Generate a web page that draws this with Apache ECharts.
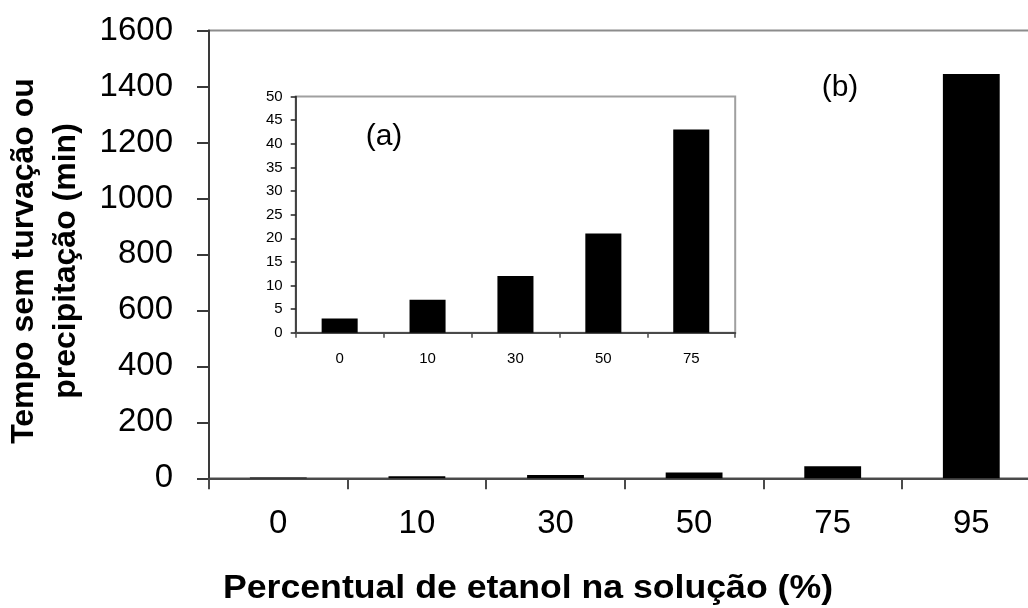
<!DOCTYPE html>
<html>
<head>
<meta charset="utf-8">
<script src="https://cdn.jsdelivr.net/npm/echarts@6/dist/echarts.min.js"></script>
<style>
  html, body { margin: 0; padding: 0; background: #fff; }
  #chart { width: 1028px; height: 608px; }
</style>
</head>
<body>
<div id="chart"></div>
<script>
// Ethanol percentage categories and time without turbidity/precipitation (min)
const categories = ['0', '10', '30', '50', '75', '95'];
const timeValues = [3, 7, 12, 21, 43, 1445];

// Detail panel (a): the first five concentrations on a 0-50 scale
const insetCategories = ['0', '10', '30', '50', '75'];
const insetValues = [3, 7, 12, 21, 43];

const yTitle = 'Tempo sem turvação ou\nprecipitação (min)';
const xTitle = 'Percentual de etanol na solução (%)';
const panelA = '(a)';
const panelB = '(b)';

const FONT = '"Liberation Sans", Arial, sans-serif';
const plain = v => String(v);

const chart = echarts.init(document.getElementById('chart'), null, { renderer: 'canvas' });

chart.setOption({
  backgroundColor: '#ffffff',
  animation: false,
  grid: [
    { // main plot; its right edge runs past the canvas
      left: 209, top: 30.5, width: 831.6, height: 447.8,
      outerBoundsMode: 'none',
      show: true, borderColor: '#8c8c8c', borderWidth: 2, backgroundColor: 'transparent',
      containLabel: false
    },
    { // inset plot
      left: 295.7, top: 96.5, width: 439.5, height: 236.3,
      outerBoundsMode: 'none',
      show: true, borderColor: '#a0a0a0', borderWidth: 2, backgroundColor: '#ffffff',
      containLabel: false
    }
  ],
  xAxis: [
    {
      gridIndex: 0, type: 'category', data: categories,
      axisLine: { lineStyle: { color: '#4a4a4a', width: 2 } },
      axisTick: { show: true, length: 11, lineStyle: { color: '#4a4a4a', width: 2 } },
      axisLabel: { color: '#000', fontFamily: FONT, fontSize: 33, margin: 29 },
      splitLine: { show: false }
    },
    {
      gridIndex: 1, type: 'category', data: insetCategories,
      axisLine: { lineStyle: { color: '#4a4a4a', width: 2 } },
      axisTick: { show: true, length: 5, lineStyle: { color: '#4a4a4a', width: 1.5 } },
      axisLabel: { color: '#000', fontFamily: FONT, fontSize: 15, margin: 19 },
      splitLine: { show: false }
    }
  ],
  yAxis: [
    {
      gridIndex: 0, type: 'value', min: 0, max: 1600, interval: 200,
      axisLine: { show: true, lineStyle: { color: '#3a3a3a', width: 2 } },
      axisTick: { show: true, length: 12, lineStyle: { color: '#3a3a3a', width: 2 } },
      axisLabel: { color: '#000', fontFamily: FONT, fontSize: 33, margin: 36, formatter: plain },
      splitLine: { show: false }
    },
    {
      gridIndex: 1, type: 'value', min: 0, max: 50, interval: 5,
      axisLine: { show: true, lineStyle: { color: '#222', width: 1.5 } },
      axisTick: { show: true, length: 5, lineStyle: { color: '#222', width: 1.5 } },
      axisLabel: { color: '#000', fontFamily: FONT, fontSize: 15, margin: 13, formatter: plain },
      splitLine: { show: false }
    }
  ],
  series: [
    {
      type: 'bar', xAxisIndex: 0, yAxisIndex: 0, data: timeValues,
      barWidth: '41%', itemStyle: { color: '#000' }, z: 2
    },
    {
      type: 'bar', xAxisIndex: 1, yAxisIndex: 1, data: insetValues,
      barWidth: '41%', itemStyle: { color: '#000' }, z: 12
    }
  ],
  graphic: [
    {
      type: 'text', x: 45, y: 261, rotation: Math.PI / 2, z: 20,
      style: {
        text: yTitle, fontFamily: FONT, fontSize: 32, fontWeight: 'bold',
        lineHeight: 42, fill: '#000', align: 'center', verticalAlign: 'middle'
      }
    },
    {
      type: 'text', x: 528, y: 589, scaleX: 1.08, z: 20,
      style: {
        text: xTitle, fontFamily: FONT, fontSize: 33, fontWeight: 'bold',
        fill: '#000', align: 'center', verticalAlign: 'middle'
      }
    },
    {
      type: 'text', x: 384, y: 137, z: 30,
      style: {
        text: panelA, fontFamily: FONT, fontSize: 30,
        fill: '#000', align: 'center', verticalAlign: 'middle'
      }
    },
    {
      type: 'text', x: 840, y: 88, z: 30,
      style: {
        text: panelB, fontFamily: FONT, fontSize: 30,
        fill: '#000', align: 'center', verticalAlign: 'middle'
      }
    }
  ]
});
</script>
</body>
</html>
